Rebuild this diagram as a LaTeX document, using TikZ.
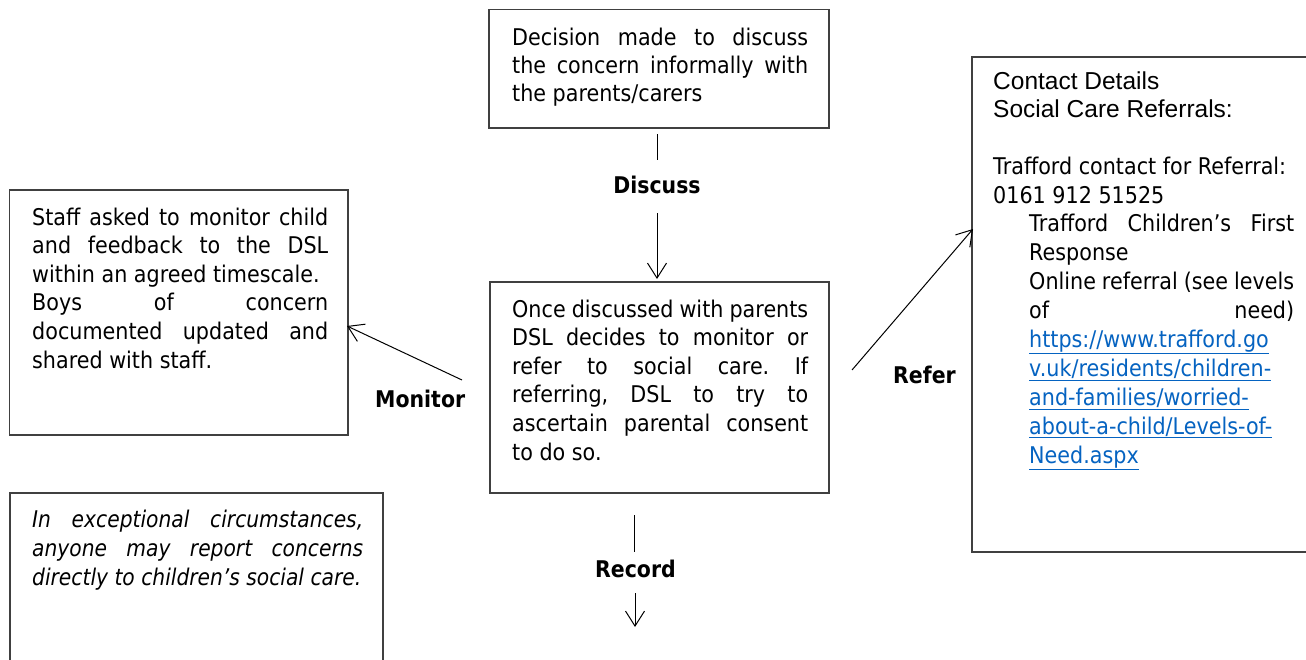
\documentclass[tikz,border=0pt]{standalone}
\usepackage{fontspec}
\usetikzlibrary{arrows.meta}
\frenchspacing
\newfontfamily\tah{DejaVu Sans}[FakeStretch=0.9]
\newfontfamily\tahb{DejaVu Sans Bold}[FakeStretch=0.89]
\newfontfamily\tahi{DejaVu Sans Oblique}[FakeStretch=0.88]
\newfontfamily\arl{Liberation Sans}
\definecolor{boxgray}{RGB}{64,64,64}
\definecolor{urlblue}{RGB}{5,99,193}
\newcommand{\jl}[2]{\makebox[#1][s]{#2}}
\newcommand{\ul}[1]{\underline{#1}}
\tikzset{
  box/.style={draw=boxgray, line width=1.6pt, fill=none},
  txt/.style={anchor=base west, inner sep=0pt, align=left},
  lbl/.style={anchor=base, inner sep=0pt, font=\tahb\fontsize{23}{28}\selectfont},
  conn/.style={draw=black, line width=1pt},
  arr/.style={conn, -{Straight Barb[length=15pt,width=19pt,line width=1pt]}}
}
\begin{document}
\begin{tikzpicture}[x=1pt,y=-1pt]
\clip (0,0) rectangle (1306,659);
\fill[white] (0,0) rectangle (1306,659);
% boxes
\draw[box] (489,9.5) rectangle (829,128);
\draw[box] (9.5,190) rectangle (348,435);
\draw[box] (490,282) rectangle (829,493);
\draw[box] (972,57) rectangle (1320,552);
\draw[box] (10,493) rectangle (383,680);
% top text (anchor = baseline of last line)
\node[txt, font=\tah\fontsize{23}{28}\selectfont] (ttop) at (512,101) {\jl{296pt}{Decision made to discuss}\\\jl{296pt}{the concern informally with}\\the parents/carers};
% monitor text
\node[txt, font=\tah\fontsize{23}{28.6}\selectfont] (tmon) at (32,368) {\jl{296pt}{Staff asked to monitor child}\\\jl{296pt}{and feedback to the DSL}\\within an agreed timescale.\\\jl{296pt}{Boys of concern}\\\jl{296pt}{documented updated and}\\shared with staff.};
% center text
\node[txt, font=\tah\fontsize{23}{28.6}\selectfont] (tcen) at (512,460) {\jl{296pt}{Once discussed with parents}\\\jl{296pt}{DSL decides to monitor or}\\\jl{296pt}{refer to social care. If}\\\jl{296pt}{referring, DSL to try to}\\\jl{296pt}{ascertain parental consent}\\to do so.};
% bottom-left text
\node[txt, font=\tahi\fontsize{23}{29}\selectfont] (tbl) at (32,585) {\jl{331pt}{In exceptional circumstances,}\\\jl{331pt}{anyone may report concerns}\\directly to children’s social care.};
% right text
\node[txt, font=\arl\fontsize{24.5}{28}\selectfont] (tcontact) at (993,117) {Contact Details\\Social Care Referrals:};
\node[txt, font=\tah\fontsize{23}{29}\selectfont] (ttraf) at (993,203) {Trafford contact for Referral:\\0161 912 51525};
\node[txt, font=\tah\fontsize{23}{28.9}\selectfont] (tresp) at (1029,463) {\jl{265pt}{Trafford Children’s First}\\Response\\\jl{265pt}{Online referral (see levels}\\\jl{265pt}{of need)}\\
{\color{urlblue}\ul{https://www.trafford.go}}\\
{\color{urlblue}\ul{v.uk/residents/children-}}\\
{\color{urlblue}\ul{and-families/worried-}}\\
{\color{urlblue}\ul{about-a-child/Levels-of-}}\\
{\color{urlblue}\ul{Need.aspx}}};
% labels
\node[lbl] (ldiscuss) at (657,193) {Discuss};
\node[lbl, anchor=base west] (lmonitor) at (375,407) {Monitor};
\node[lbl, anchor=base west] (lrefer) at (893,383) {Refer};
\node[lbl, anchor=base west] (lrecord) at (595,577) {Record};
% connectors
\coordinate (d1) at (657,134);
\coordinate (d2) at (657,160);
\coordinate (d3) at (657,213);
\coordinate (d4) at (657,279);
\draw[conn] (d1) -- (d2);
\draw[arr] (d3) -- (d4);
\coordinate (m1) at (462,380);
\coordinate (m2) at (347,326);
\draw[arr] (m1) -- (m2);
\coordinate (r1) at (852,370);
\coordinate (r2) at (973,229);
\draw[arr] (r1) -- (r2);
\coordinate (c1) at (634,515);
\coordinate (c2) at (634,552);
\coordinate (c3) at (635,593);
\coordinate (c4) at (635,627);
\draw[conn] (c1) -- (c2);
\draw[arr] (c3) -- (c4);
\end{tikzpicture}
\end{document}
